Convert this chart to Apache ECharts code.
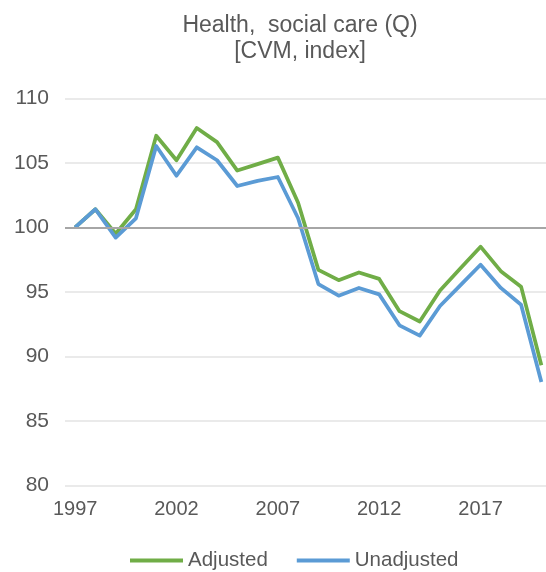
<!DOCTYPE html>
<html>
<head>
<meta charset="utf-8">
<script src="https://cdn.jsdelivr.net/npm/echarts@6/dist/echarts.min.js"></script>
<style>
html,body{margin:0;padding:0;background:#fff;overflow:hidden;}
#chart{width:560px;height:572px;}
</style>
</head>
<body>
<div id="chart"></div>
<script>
var years = ['1997','1998','1999','2000','2001','2002','2003','2004','2005','2006','2007','2008','2009','2010','2011','2012','2013','2014','2015','2016','2017','2018','2019','2020'];
var adjusted = [100, 101.4, 99.5, 101.4, 107.1, 105.2, 107.7, 106.6, 104.4, 104.9, 105.4, 101.9, 96.7, 95.9, 96.5, 96.0, 93.5, 92.7, 95.1, 96.8, 98.5, 96.6, 95.4, 89.3];
var unadjusted = [100, 101.4, 99.2, 100.7, 106.3, 104.0, 106.2, 105.2, 103.2, 103.6, 103.9, 100.7, 95.6, 94.7, 95.3, 94.8, 92.4, 91.6, 93.9, 95.5, 97.1, 95.3, 94.0, 88.0];
var yTicks = [80, 85, 90, 95, 100, 105, 110];

var txt = '#595959';
var font = '"Liberation Sans", Arial, sans-serif';
var chart = echarts.init(document.getElementById('chart'), null, {renderer:'canvas'});
chart.setOption({
  animation: false,
  backgroundColor: '#ffffff',
  textStyle: {fontFamily: font},
  title: {
    text: 'Health,  social care (Q)\n[CVM, index]',
    left: 295, top: 8, textAlign: 'center',
    textStyle: {fontFamily: font, fontSize: 23, fontWeight: 'normal', color: txt, lineHeight: 26}
  },
  grid: {left: 65, top: 98.3, width: 486.5, height: 387},
  xAxis: {
    type: 'category',
    data: years,
    boundaryGap: true,
    axisLine: {show: false},
    axisTick: {show: false},
    axisLabel: {interval: 4, color: txt, fontSize: 20, fontFamily: font, margin: 14},
    splitLine: {show: false}
  },
  yAxis: {
    type: 'value',
    min: yTicks[0], max: yTicks[yTicks.length-1], interval: 5,
    axisLine: {show: false},
    axisTick: {show: false},
    axisLabel: {color: txt, fontSize: 21, fontFamily: font, margin: 16},
    splitLine: {lineStyle: {color: '#E3E3E3', width: 1.5}}
  },
  legend: {
    left: 125, top: 545,
    itemWidth: 53, itemHeight: 4, itemGap: 29,
    icon: 'rect',
    textStyle: {color: txt, fontSize: 20.5, fontFamily: font, padding: [0,0,0,0]},
    data: ['Adjusted', 'Unadjusted']
  },
  series: [
    {
      name: 'base', type: 'line', data: [], z: 1, silent: true,
      markLine: {
        silent: true, symbol: 'none', label: {show: false},
        lineStyle: {color: '#A6A6A6', width: 2, type: 'solid'},
        data: [{yAxis: 100}]
      }
    },
    {
      name: 'Adjusted', type: 'line', data: adjusted, z: 3,
      symbol: 'none', color: '#70AD47',
      lineStyle: {color: '#70AD47', width: 3.75, join: 'round'}
    },
    {
      name: 'Unadjusted', type: 'line', data: unadjusted, z: 4,
      symbol: 'none', color: '#5B9BD5',
      lineStyle: {color: '#5B9BD5', width: 3.75, join: 'round'}
    }
  ]
});
</script>
</body>
</html>
